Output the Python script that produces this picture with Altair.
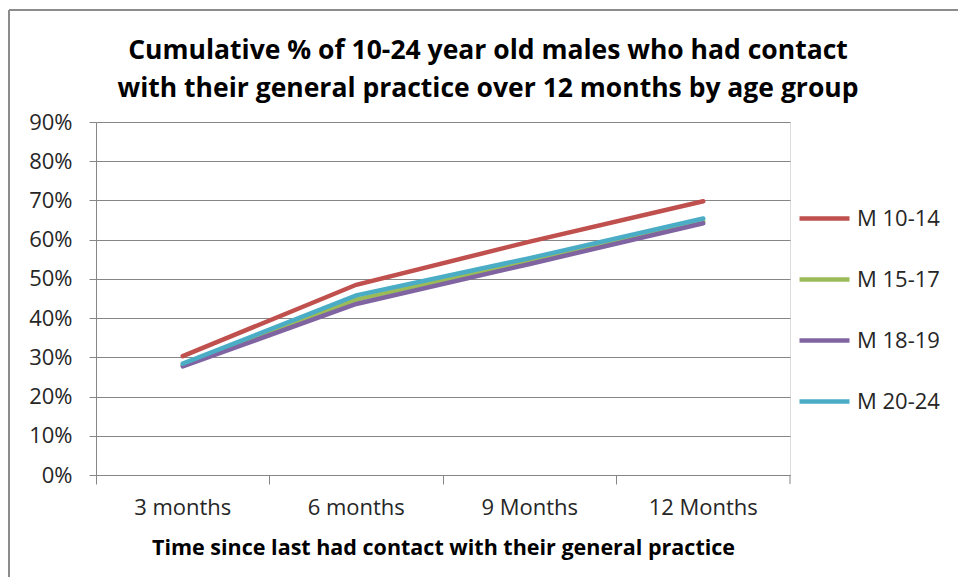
import altair as alt
import pandas as pd

periods = ["3 months", "6 months", "9 Months", "12 Months"]
series = ["M 10-14", "M 15-17", "M 18-19", "M 20-24"]
m10_14 = [0.303, 0.485, 0.595, 0.698]
m15_17 = [0.280, 0.447, 0.546, 0.647]
m18_19 = [0.277, 0.436, 0.538, 0.642]
m20_24 = [0.284, 0.458, 0.553, 0.654]
colors = ["#C0504D", "#9BBB59", "#8064A2", "#4BACC6"]
title_lines = ["Cumulative % of 10-24 year old males who had contact",
               "with their general practice over 12 months by age group"]

rows = []
for name, vals in zip(series, [m10_14, m15_17, m18_19, m20_24]):
    for i, (p, v) in enumerate(zip(periods, vals)):
        rows.append({"period": p, "series": name, "value": v, "idx": i})
df = pd.DataFrame(rows)

FONT = "Open Sans"
GRAY = "#868686"
TXT = "#262626"
W, H = 694, 353
L, T = 96, 122

lines = alt.Chart(df).mark_line(strokeWidth=4.5, strokeCap="round").encode(
    x=alt.X("period:N", sort=periods, bandPosition=0.5,
            scale=alt.Scale(type="band", paddingInner=0, paddingOuter=0),
            axis=alt.Axis(title="Time since last had contact with their general practice",
                          bandPosition=0, labelFontSize=22, labelFont=FONT,
                          labelColor=TXT, labelPadding=13, tickSize=9,
                          tickColor=GRAY, domainColor=GRAY, titleFont=FONT,
                          titleFontSize=21.5, titleFontWeight="bold",
                          titleColor="#000000", titlePadding=19, labelAngle=0)),
    y=alt.Y("value:Q", scale=alt.Scale(domain=[0, 0.9]),
            axis=alt.Axis(title=None, format=".0%", values=[i / 10 for i in range(10)],
                          labelFontSize=22, labelFont=FONT, labelColor=TXT,
                          tickSize=7, tickColor=GRAY, domainColor=GRAY,
                          gridColor=GRAY, labelPadding=17)),
    color=alt.Color("series:N", sort=series,
                    scale=alt.Scale(domain=series, range=colors),
                    legend=alt.Legend(title=None, orient="none", legendX=701, legendY=69,
                                      symbolType="stroke", symbolSize=2500,
                                      symbolStrokeWidth=4.5, labelFontSize=22,
                                      labelFont=FONT, labelColor=TXT,
                                      rowPadding=22, labelOffset=5)),
    order=alt.Order("idx:Q"),
)

frame = pd.DataFrame({"a": [0]})
title_df = pd.DataFrame({"t": title_lines, "i": [0, 1]})
title = alt.Chart(title_df).mark_text(
    font=FONT, fontSize=26.5, fontWeight="bold", color="#000000",
    align="center", baseline="alphabetic").encode(
    text="t:N",
    x=alt.value(488 - L),
    y=alt.Y("i:Q", scale=alt.Scale(domain=[0, 1], range=[59 - T, 97 - T]), axis=None),
)
end_tick = alt.Chart(frame).mark_rule(color=GRAY, strokeWidth=1).encode(
    x=alt.value(W), y=alt.value(H), y2=alt.value(H + 9))
border_top = alt.Chart(frame).mark_rule(color="#8c8c8c", strokeWidth=2).encode(
    x=alt.value(9 - L), x2=alt.value(958 - L), y=alt.value(10 - T))
border_left = alt.Chart(frame).mark_rule(color="#8c8c8c", strokeWidth=2).encode(
    x=alt.value(9 - L), y=alt.value(10 - T), y2=alt.value(577 - T))

chart = alt.layer(lines, end_tick, border_top, border_left, title).resolve_scale(
    y="independent").properties(
    width=W, height=H,
    autosize=alt.AutoSizeParams(type="none"),
    padding={"left": L, "top": T, "right": 958 - L - W, "bottom": 577 - T - H},
).configure_view(stroke=None).configure(background="white")

chart.save("out.html", embed_options={"renderer": "svg", "actions": False})
